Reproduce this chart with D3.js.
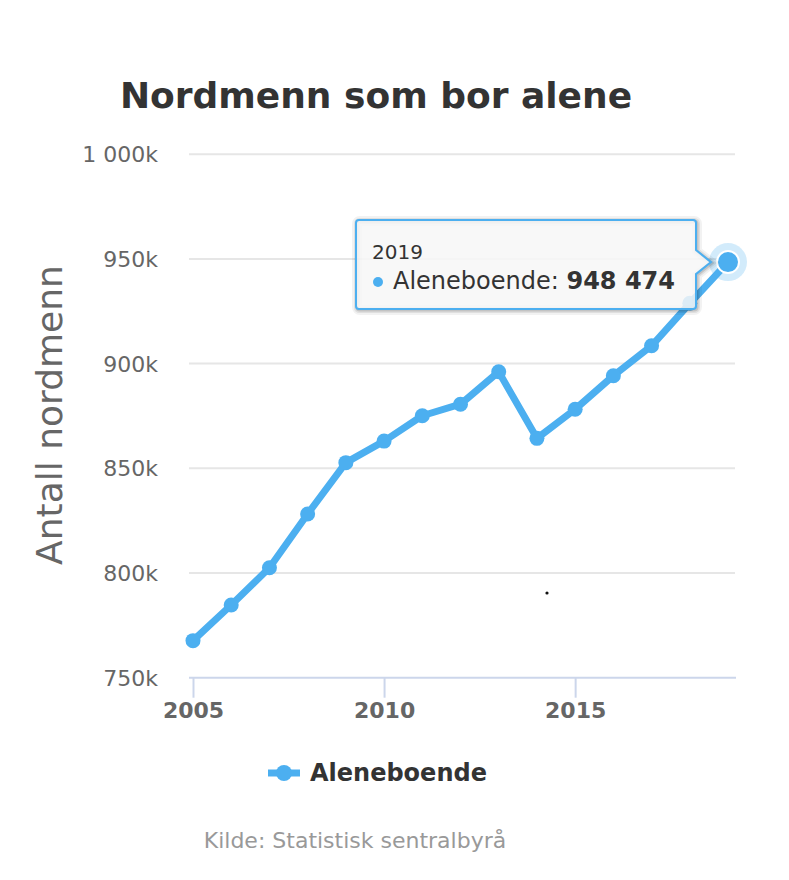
<!DOCTYPE html>
<html><head><meta charset="utf-8">
<script src="https://cdn.jsdelivr.net/npm/d3@7/dist/d3.min.js"></script>
<style>
html,body{margin:0;padding:0;background:#fff;}
svg{display:block;font-family:"DejaVu Sans",Verdana,sans-serif;}
</style></head>
<body>
<svg id="c" width="789" height="880"></svg>
<script>
const years = [2005,2006,2007,2008,2009,2010,2011,2012,2013,2014,2015,2016,2017,2018,2019];
const values = [767700,784700,802500,828200,852700,863000,875100,880600,896100,864300,878200,894200,908500,928800,948474];
const yTicks = [750000,800000,850000,900000,950000,1000000];
const yTickLabels = ["750k","800k","850k","900k","950k","1 000k"];
const xTicks = [2005,2010,2015];
const seriesName = "Aleneboende";
const title = "Nordmenn som bor alene";
const yTitle = "Antall nordmenn";
const credit = "Kilde: Statistisk sentralbyrå";
const hoverIndex = 14;

const color = "#4caff0";
const svg = d3.select("#c");
const plotL = 189, plotR = 735;
const x = d3.scaleLinear().domain([2005,2019]).range([193,728]);
const y = d3.scaleLinear().domain([750000,1000000]).range([677.7,154.2]);

// title
svg.append("text").attr("x",376).attr("y",108).attr("text-anchor","middle")
  .attr("font-size",36).attr("font-weight","bold").attr("fill","#333").text(title);

// grid
svg.append("g").selectAll("line").data(yTicks.slice(1)).join("line")
  .attr("x1",plotL).attr("x2",plotR).attr("y1",d=>y(d)).attr("y2",d=>y(d))
  .attr("stroke","#e6e6e6").attr("stroke-width",2);

// y labels
svg.append("g").selectAll("text").data(yTicks).join("text")
  .attr("x",158).attr("y",d=>y(d)+8).attr("text-anchor","end")
  .attr("font-size",22).attr("fill","#666").text((d,i)=>yTickLabels[i]);

// y title
svg.append("text").attr("transform","translate(62,415) rotate(-90)")
  .attr("text-anchor","middle").attr("font-size",36).attr("fill","#666").text(yTitle);

// x axis
const xAxis = d3.axisBottom(x).tickValues(xTicks).tickSize(20).tickFormat(d3.format("d"));
const gx = svg.append("g").attr("transform","translate(0,677.7)").call(xAxis);
gx.select(".domain").remove();
gx.append("line").attr("x1",plotL).attr("x2",plotR+1).attr("stroke","#ccd6eb").attr("stroke-width",2);
gx.selectAll(".tick line").attr("stroke","#ccd6eb").attr("stroke-width",2);
gx.selectAll(".tick text").attr("y",0).attr("dy",40).attr("font-size",22).attr("font-weight","bold")
  .attr("fill","#666").attr("font-family","DejaVu Sans, Verdana, sans-serif");

// line
const data = years.map((yr,i)=>({yr,v:values[i]}));
const line = d3.line().x(d=>x(d.yr)).y(d=>y(d.v));
svg.append("path").datum(data).attr("d",line).attr("fill","none")
  .attr("stroke",color).attr("stroke-width",7).attr("stroke-linejoin","round").attr("stroke-linecap","round");
svg.append("g").selectAll("circle").data(data.filter((d,i)=>i!==hoverIndex)).join("circle")
  .attr("cx",d=>x(d.yr)).attr("cy",d=>y(d.v)).attr("r",7.5).attr("fill",color);

// hover point
const hp = data[hoverIndex];
svg.append("circle").attr("cx",x(hp.yr)).attr("cy",y(hp.v)).attr("r",19).attr("fill",color).attr("opacity",0.25);
svg.append("circle").attr("cx",x(hp.yr)).attr("cy",y(hp.v)).attr("r",11).attr("fill",color)
  .attr("stroke","#fff").attr("stroke-width",2);

// stray dot
svg.append("circle").attr("cx",547).attr("cy",593).attr("r",1.6).attr("fill","#111");

// tooltip
const tx0=356, ty0=220, tx1=696, ty1=309, tipX = x(hp.yr)-17, tipY=y(hp.v);
const tp = `M${tx0+3},${ty0} L${tx1-3},${ty0} Q${tx1},${ty0} ${tx1},${ty0+3} L${tx1},${tipY-12} L${tipX},${tipY} L${tx1},${tipY+12} L${tx1},${ty1-3} Q${tx1},${ty1} ${tx1-3},${ty1} L${tx0+3},${ty1} Q${tx0},${ty1} ${tx0},${ty1-3} L${tx0},${ty0+3} Q${tx0},${ty0} ${tx0+3},${ty0} Z`;
[[5,0.05],[3,0.08],[1.5,0.12]].forEach(([o,a])=>{
  svg.append("path").attr("d",tp).attr("fill","none").attr("stroke","#000").attr("stroke-opacity",a)
    .attr("stroke-width",o*2).attr("transform",`translate(1,1)`);
});
svg.append("path").attr("d",tp).attr("fill","rgba(247,247,247,0.85)").attr("stroke",color).attr("stroke-width",2);
svg.append("text").attr("x",372).attr("y",259).attr("font-size",20).attr("fill","#333").text(String(hp.yr));
svg.append("circle").attr("cx",378).attr("cy",282).attr("r",5).attr("fill",color);
const t2 = svg.append("text").attr("x",393).attr("y",289).attr("font-size",24).attr("fill","#333");
t2.append("tspan").text(seriesName+": ");
t2.append("tspan").attr("font-weight","bold").text(d3.format(",")(hp.v).replace(/,/g," "));

// legend
svg.append("line").attr("x1",268).attr("x2",300).attr("y1",773).attr("y2",773).attr("stroke",color).attr("stroke-width",7);
svg.append("circle").attr("cx",284).attr("cy",773).attr("r",8).attr("fill",color);
svg.append("text").attr("x",310).attr("y",781).attr("font-size",24).attr("font-weight","bold").attr("fill","#333").text(seriesName);

// credit
svg.append("text").attr("x",355).attr("y",848).attr("text-anchor","middle").attr("font-size",22).attr("fill","#999").text(credit);
</script>
</body></html>
